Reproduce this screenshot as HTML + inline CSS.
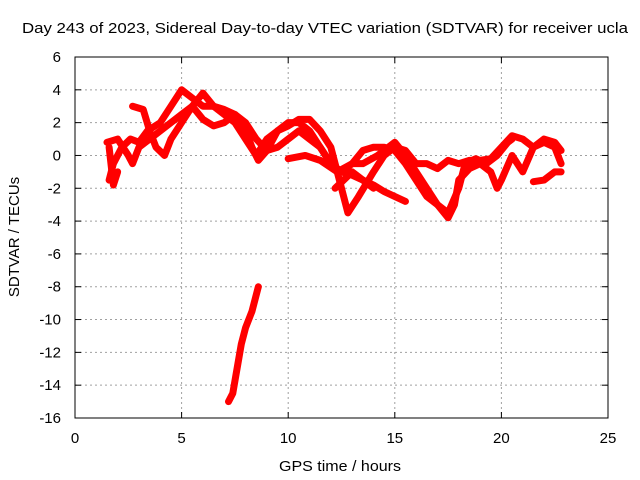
<!DOCTYPE html>
<html><head><meta charset="utf-8"><style>
body{margin:0;background:#fff}
svg{display:block;font-family:"Liberation Sans",sans-serif;font-size:15px}
</style></head><body>
<svg id="c" width="640" height="480"></svg>
<script>
const xTicks=[0,5,10,15,20,25];
const yTicks=[6,4,2,0,-2,-4,-6,-8,-10,-12,-14,-16];
const track1=[[1.6,-1.5],[1.8,-0.5],[2.2,0.5],[2.6,1],[3,0.8],[3.4,1.5],[4,2],[4.5,3],[5,4],[5.5,3.5],[6,3],[6.5,3],[7,2.8],[7.5,2.5],[8,1.5],[8.3,0.5],[8.6,-0.3],[9,0.3],[9.5,1.5],[10,2],[10.5,2],[11,1.5],[11.5,0.5],[12,-0.5],[12.5,-1],[13,-1.2],[13.5,-1.5],[14,-1.8],[14.5,-2.2],[15.5,-2.8]];
const track2=[[1.5,0.8],[2,1],[2.5,0],[2.7,-0.5],[3,0.5],[3.5,1],[4,1.5],[4.5,2],[5,2.5],[5.5,3],[6,3.8],[6.5,3],[7,2.5],[7.5,2],[8,1],[8.5,0],[9,1],[9.5,1.5],[10,1.8],[10.5,2.2],[11,2.2],[11.5,1.5],[12,0.5],[12.2,-0.5],[12.5,-2],[12.8,-3.5],[13.3,-2.5],[14,-1],[14.5,0],[15,0.5],[15.5,0.3],[16,-0.5],[16.5,-0.5],[17,-0.8],[17.5,-0.3],[18,-0.5],[18.5,-0.3],[19,-0.3],[19.5,-0.2],[20,0.5],[20.5,1.2],[21,1],[21.5,0.5],[22,0.8],[22.5,0.5],[22.8,-0.5]];
const track3=[[2.7,3],[3.2,2.8],[3.5,1.5],[3.8,0.5],[4.2,0],[4.5,1],[5,2],[5.5,3],[6,2.2],[6.5,1.8],[7,2],[7.5,2.5],[8,2],[8.5,1],[9,0.3],[9.5,0.5],[10,1],[10.5,1.5],[11,1],[11.5,0.5],[12,-0.5],[12.5,-1],[13,-0.5],[13.5,0.3],[14,0.5],[14.5,0.5],[15,0.3],[15.5,-0.5],[16,-1.5],[16.5,-2.5],[17,-3],[17.5,-3.5],[18,-2],[18.3,-0.5],[18.8,-0.2],[19.3,-0.5],[19.8,0],[20.3,0.8],[20.5,1]];
const track4=[[10,-0.2],[10.8,0],[11.5,-0.3],[12.3,-1],[13,-0.5],[13.5,-0.5],[14.2,0],[15,0.8],[15.5,0],[16,-1],[16.5,-2],[17,-3],[17.5,-3.8],[17.8,-3],[18,-1.5],[18.5,-0.8],[19,-0.5],[19.5,-1],[19.8,-2],[20,-1.5],[20.5,0],[21,-1],[21.5,0.5],[22,1],[22.5,0.8],[22.8,0.3]];
const track5=[[12.2,-2],[12.6,-1.5],[13,-1],[13.5,-1.5],[14,-2]];
const track6=[[21.5,-1.6],[22,-1.5],[22.5,-1],[22.8,-1]];
const track7=[[1.6,0.5],[1.8,-1.8],[2,-1]];
const track8=[[7.2,-15],[7.4,-14.5],[7.6,-13],[7.8,-11.5],[8,-10.5],[8.3,-9.5],[8.6,-8]];
const tracks=[track1,track2,track3,track4,track5,track6,track7,track8];
const X0=75,X1=608,Y0=57,Y1=418;
const sx=h=>X0+(h-0)/25*(X1-X0);
const sy=v=>Y0+(6-v)/22*(Y1-Y0);
const NS='http://www.w3.org/2000/svg',svg=document.getElementById('c');
function mk(t,a,txt){const e=document.createElementNS(NS,t);for(const k in a)e.setAttribute(k,a[k]);if(txt!=null)e.textContent=txt;svg.appendChild(e);return e;}
xTicks.forEach(t=>{const x=sx(t);
 if(t>0&&t<25){const g=mk('line',{x1:x,x2:x,y1:Y0,y2:Y1,stroke:'#a0a0a0','stroke-dasharray':'2,3'});
 
 }
 const l=mk('text',{x:x,y:443,'text-anchor':'middle'},t);
 
 
 mk('line',{x1:x,x2:x,y1:Y1,y2:Y1-6,stroke:'#000'});mk('line',{x1:x,x2:x,y1:Y0,y2:Y0+6,stroke:'#000'});});
yTicks.forEach(t=>{const y=sy(t);
 if(t<6&&t>-16){const g=mk('line',{x1:X0,x2:X1,y1:y,y2:y,stroke:'#a0a0a0','stroke-dasharray':'2,3'});
 
 }
 const l=mk('text',{x:61,y:y+5,'text-anchor':'end'},t);
 
 
 mk('line',{x1:X0,x2:X0+6,y1:y,y2:y,stroke:'#000'});mk('line',{x1:X1,x2:X1-6,y1:y,y2:y,stroke:'#000'});});
const fr=mk('rect',{x:X0,y:Y0,width:X1-X0,height:Y1-Y0,fill:'none',stroke:'#000'});


tracks.forEach(tr=>{
 const p=mk('polyline',{points:tr.map(d=>sx(d[0])+','+sy(d[1])).join(' '),fill:'none',stroke:'#ff0000','stroke-width':7,'stroke-linejoin':'round','stroke-linecap':'round'});
 
 
});
const ti=mk('text',{x:22,y:33,textLength:606,lengthAdjust:'spacingAndGlyphs'},'Day 243 of 2023, Sidereal Day-to-day VTEC variation (SDTVAR) for receiver ucla');


const xt=mk('text',{x:279,y:471,textLength:122,lengthAdjust:'spacingAndGlyphs'},'GPS time / hours');


const yt=mk('text',{x:0,y:0,'text-anchor':'middle',transform:'translate(19,237) rotate(-90)'},'SDTVAR / TECUs');


</script>
</body></html>
